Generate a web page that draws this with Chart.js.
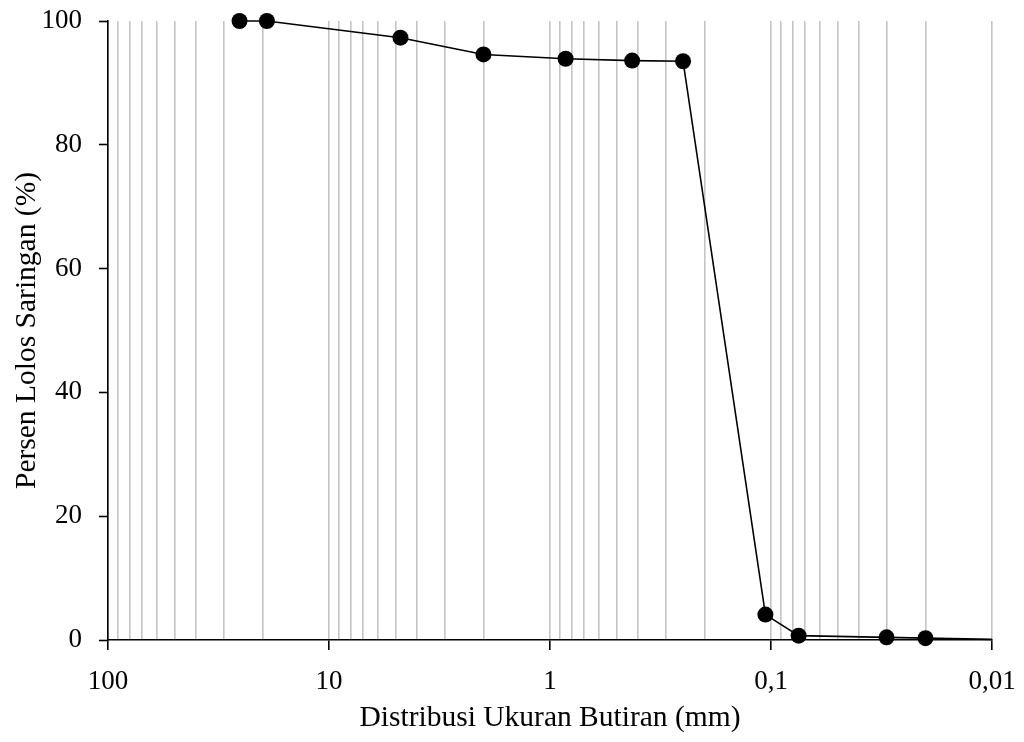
<!DOCTYPE html>
<html>
<head>
<meta charset="utf-8">
<script src="https://cdn.jsdelivr.net/npm/chart.js@4"></script>
<style>
  html, body { margin: 0; padding: 0; background: #fff; }
  #wrap { width: 1024px; height: 742px; }
</style>
</head>
<body>
<div id="wrap"><canvas id="gradasi"></canvas></div>
<script>
// data analisa saringan: ukuran butiran (mm) dan persen lolos
const ukuran = [25.4, 19.1, 4.75, 2.0, 0.85, 0.425, 0.25, 0.106, 0.075, 0.03, 0.02, 0.01];
const lolos  = [100, 100, 97.3, 94.6, 93.9, 93.6, 93.5, 4.1, 0.7, 0.43, 0.3, 0.1];

// garis grid vertikal: tiap dekade + pembagi 2..9
const dekade = [0.01, 0.1, 1, 10, 100];
const pengali = [1, 2, 3, 4, 5, 6, 7, 8, 9];
const ySumbu = [0, 20, 40, 60, 80, 100];

const FONT = 'Liberation Serif, Times New Roman, serif';

let tickX = [];
dekade.slice(0, -1).forEach(d => {
    pengali.forEach(m => tickX.push(parseFloat((d * m).toPrecision(6))));
});
tickX.push(100);

const isDekade = v => dekade.some(d => Math.abs(v - d) < d * 1e-6);

new Chart(document.getElementById('gradasi'), {
    type: 'line',
    data: {
        datasets: [{
            data: ukuran.map((u, i) => ({ x: u, y: lolos[i] })),
            borderColor: '#000',
            backgroundColor: '#000',
            borderWidth: 1.6,
            // titik terakhir cuma ujung garis, tanpa marker
            pointRadius: ukuran.map((u, i) => i === ukuran.length - 1 ? 0 : 8),
            pointBorderWidth: 0,
            tension: 0,
            clip: false
        }]
    },
    options: {
        responsive: true,
        maintainAspectRatio: false,
        animation: false,
        layout: { padding: { top: 21, right: 32, left: 0, bottom: 0 } },
        plugins: { legend: { display: false }, tooltip: { enabled: false } },
        scales: {
            x: {
                type: 'logarithmic',
                reverse: true,
                min: 0.01,
                max: 100,
                afterBuildTicks: scale => { scale.ticks = tickX.map(v => ({ value: v })); },
                afterFit: scale => { scale.height = 102; },
                border: { display: true, color: '#000', width: 1.6 },
                grid: {
                    color: '#c4c4c4',
                    lineWidth: 1.6,
                    tickLength: 10,
                    tickColor: ctx => isDekade(ctx.tick.value) ? '#000' : 'rgba(0,0,0,0)',
                    tickWidth: 1.6
                },
                ticks: {
                    autoSkip: false,
                    maxRotation: 0,
                    padding: 16,
                    color: '#000',
                    font: { family: FONT, size: 27 },
                    callback: v => isDekade(v) ? String(v).replace('.', ',') : ''
                },
                title: {
                    display: true,
                    text: 'Distribusi Ukuran Butiran (mm)',
                    color: '#000',
                    font: { family: FONT, size: 29.5 },
                    padding: { top: 0, bottom: 6 }
                }
            },
            y: {
                min: 0,
                max: 100,
                afterBuildTicks: scale => { scale.ticks = ySumbu.map(v => ({ value: v })); },
                afterFit: scale => {
                    scale.width = 108;
                    // label "100" boleh keluar sedikit di atas area plot
                    scale.paddingTop = 0;
                    scale.paddingBottom = 0;
                },
                border: { display: true, color: '#000', width: 1.6 },
                grid: {
                    drawOnChartArea: false,
                    tickLength: 9,
                    tickColor: '#000',
                    tickWidth: 1.6
                },
                ticks: {
                    padding: 17,
                    color: '#000',
                    font: { family: FONT, size: 27 }
                },
                title: {
                    display: true,
                    text: 'Persen Lolos Saringan (%)',
                    color: '#000',
                    font: { family: FONT, size: 29.5 },
                    padding: { top: 10, bottom: 0 }
                }
            }
        }
    }
});
</script>
</body>
</html>
